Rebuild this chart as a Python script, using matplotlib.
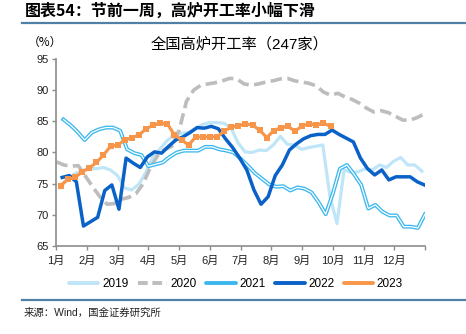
import numpy as np
import matplotlib
matplotlib.use("Agg")
import matplotlib.pyplot as plt
from matplotlib.lines import Line2D

plt.rcParams['font.family'] = ['Liberation Sans', 'Noto Sans CJK SC', 'DejaVu Sans']

# weekly blast furnace utilisation (%)
v2019 = [74.8, 75.8, 76.6, 77.1, 77.4, 77.4, 77.6, 77.2, 76.3, 74.3, 74.0, 74.9, 76.8,
         79.3, 80.6, 81.9, 82.8, 83.1, 83.2, 83.8, 84.5, 84.8, 84.8, 84.7, 84.0, 81.6,
         80.1, 80.0, 80.4, 80.3, 81.2, 82.6, 81.3, 81.2, 80.5, 80.8, 81.0, 81.2, 73.0,
         68.6, 77.2, 76.8, 76.9, 77.4, 77.2, 78.0, 77.6, 78.6, 79.2, 78.0, 78.0, 77.0]
v2020 = [78.5, 78.0, 77.8, 77.9, 76.2, 74.5, 72.9, 71.7, 71.8, 72.5, 72.8, 73.4, 75.0,
         77.6, 79.5, 80.5, 81.0, 83.6, 88.2, 90.0, 90.8, 91.0, 91.2, 91.5, 91.9, 91.8,
         91.0, 90.8, 91.0, 91.3, 91.5, 91.8, 91.9, 91.5, 91.3, 91.1, 90.7, 89.7, 89.2,
         89.5, 88.9, 88.5, 87.9, 87.1, 86.5, 86.7, 86.4, 85.8, 85.2, 85.2, 85.6, 86.2]
v2021 = [85.3, 84.4, 83.3, 82.0, 83.2, 83.7, 84.0, 84.0, 83.5, 80.5, 79.9, 79.6, 77.8,
         78.1, 78.4, 79.3, 80.0, 80.3, 80.3, 80.3, 80.9, 80.9, 80.5, 80.3, 80.0, 79.0,
         77.9, 76.7, 75.8, 74.9, 74.5, 74.6, 73.9, 74.4, 74.2, 73.6, 72.0, 70.1, 73.4,
         77.4, 78.0, 76.5, 74.8, 71.0, 71.6, 70.5, 69.9, 69.9, 68.1, 68.1, 67.9, 70.1]
v2022 = [76.0, 76.3, 75.3, 68.2, 68.9, 69.6, 73.9, 74.8, 70.9, 79.1, 78.3, 77.6, 79.3,
         80.1, 79.9, 81.0, 82.0, 82.5, 83.2, 84.0, 83.9, 84.2, 83.8, 82.2, 80.8, 79.1,
         77.2, 74.0, 71.7, 72.9, 76.3, 78.0, 80.4, 81.4, 82.2, 82.7, 82.9, 82.9, 83.6,
         82.9, 82.3, 81.7, 79.1, 77.4, 76.4, 77.2, 75.6, 76.1, 76.1, 76.1, 75.3, 74.8]
v2023 = [74.7, 75.7, 76.0, 76.9, 77.5, 78.4, 79.6, 81.0, 81.2, 82.0, 82.4, 82.8, 83.8,
         84.4, 84.7, 84.6, 82.8, 82.0, 81.2, 82.5, 82.5, 82.5, 82.5, 83.4, 84.1, 84.3,
         84.6, 84.4, 83.6, 82.4, 83.5, 84.0, 84.2, 83.4, 84.3, 84.6, 84.4, 84.7, 84.2]

months = ['1月', '2月', '3月', '4月', '5月', '6月', '7月', '8月', '9月', '10月', '11月', '12月']
years = ['2019', '2020', '2021', '2022', '2023']

week = 12 / 52
x2019 = np.linspace(0.16, 11.9, len(v2019))
x2020 = np.linspace(0.02, 11.98, len(v2020))
x2021 = np.linspace(0.24, 12.0, len(v2021))
x2022 = np.linspace(0.2, 11.98, len(v2022))
x2023 = 0.16 + week * np.arange(len(v2023))

c2019 = '#bfe5f8'
c2020 = '#bdbdbd'
c2021 = '#3cb8ee'
c2022 = '#0a62c8'
c2023 = '#f7964a'

fig = plt.figure(figsize=(4.66, 3.34), dpi=100)
ax = fig.add_axes([56 / 466, 1 - 246 / 334, (425 - 56) / 466, (246 - 59) / 334])

ax.plot(x2019, v2019, color=c2019, lw=2.3, solid_joinstyle='round')
ax.plot(x2020, v2020, color=c2020, lw=2.6, dashes=(3.2, 1.5))
ax.plot(x2021, v2021, color=c2021, lw=2.8, solid_joinstyle='round')
ax.plot(x2021, v2021, color='white', lw=0.9, solid_joinstyle='round')
ax.plot(x2022, v2022, color=c2022, lw=2.5, solid_joinstyle='round')
ax.plot(x2023, v2023, color=c2023, lw=2.3, marker='s', markersize=4.5,
        markeredgewidth=0)

ax.set_xlim(0, 12)
ax.set_ylim(65, 95)
ax.set_yticks(range(65, 96, 5))
ax.set_xticks(range(13))
ax.set_xticklabels(months + [''])
for s in ['top', 'right']:
    ax.spines[s].set_visible(False)
for s in ['left', 'bottom']:
    ax.spines[s].set_color('#8c8c8c')
    ax.spines[s].set_linewidth(1.2)
ax.tick_params(axis='both', colors='#8c8c8c', labelcolor='#222222', labelsize=8,
               length=3, width=1, direction='out', pad=2)
ax.tick_params(axis='x', pad=4)

styles = [dict(), dict(dashes=(2.5, 1.2)), dict(), dict(), dict()]
handles = [Line2D([], [], color=c, lw=2.8, solid_capstyle='round', **st)
           for c, st in zip([c2019, c2020, c2021, c2022, c2023], styles)]
fig.legend(handles, years, loc='center', bbox_to_anchor=(236 / 466, 1 - 284 / 334),
           ncol=5, frameon=False, fontsize=8.5, handlelength=2.5, handletextpad=0.3,
           columnspacing=0.8)

fig.text(25 / 466, 1 - 11 / 334, '图表54：节前一周，高炉开工率小幅下滑', fontsize=11.5,
         fontweight='bold', fontstyle='italic', va='center', ha='left',
         family=['Noto Sans CJK SC', 'DejaVu Sans'])
fig.add_artist(Line2D([22 / 466, 1], [1 - 23 / 334] * 2, color='#4f81a6', lw=1.6))
fig.add_artist(Line2D([22 / 466, 1], [1 - 300 / 334] * 2, color='#4f81a6', lw=1.6))
fig.text(28 / 466, 1 - 42 / 334, '（%）', fontsize=8.5, va='center', ha='left',
         family=['Noto Sans CJK SC', 'DejaVu Sans'])
fig.text(240 / 466, 1 - 44 / 334, '全国高炉开工率（247家）', fontsize=11, va='center',
         ha='center')
fig.text(24 / 466, 1 - 313 / 334, '来源：Wind，国金证券研究所', fontsize=7.5, va='center',
         ha='left', color='#222222')

fig.savefig('out.png', dpi=100)
